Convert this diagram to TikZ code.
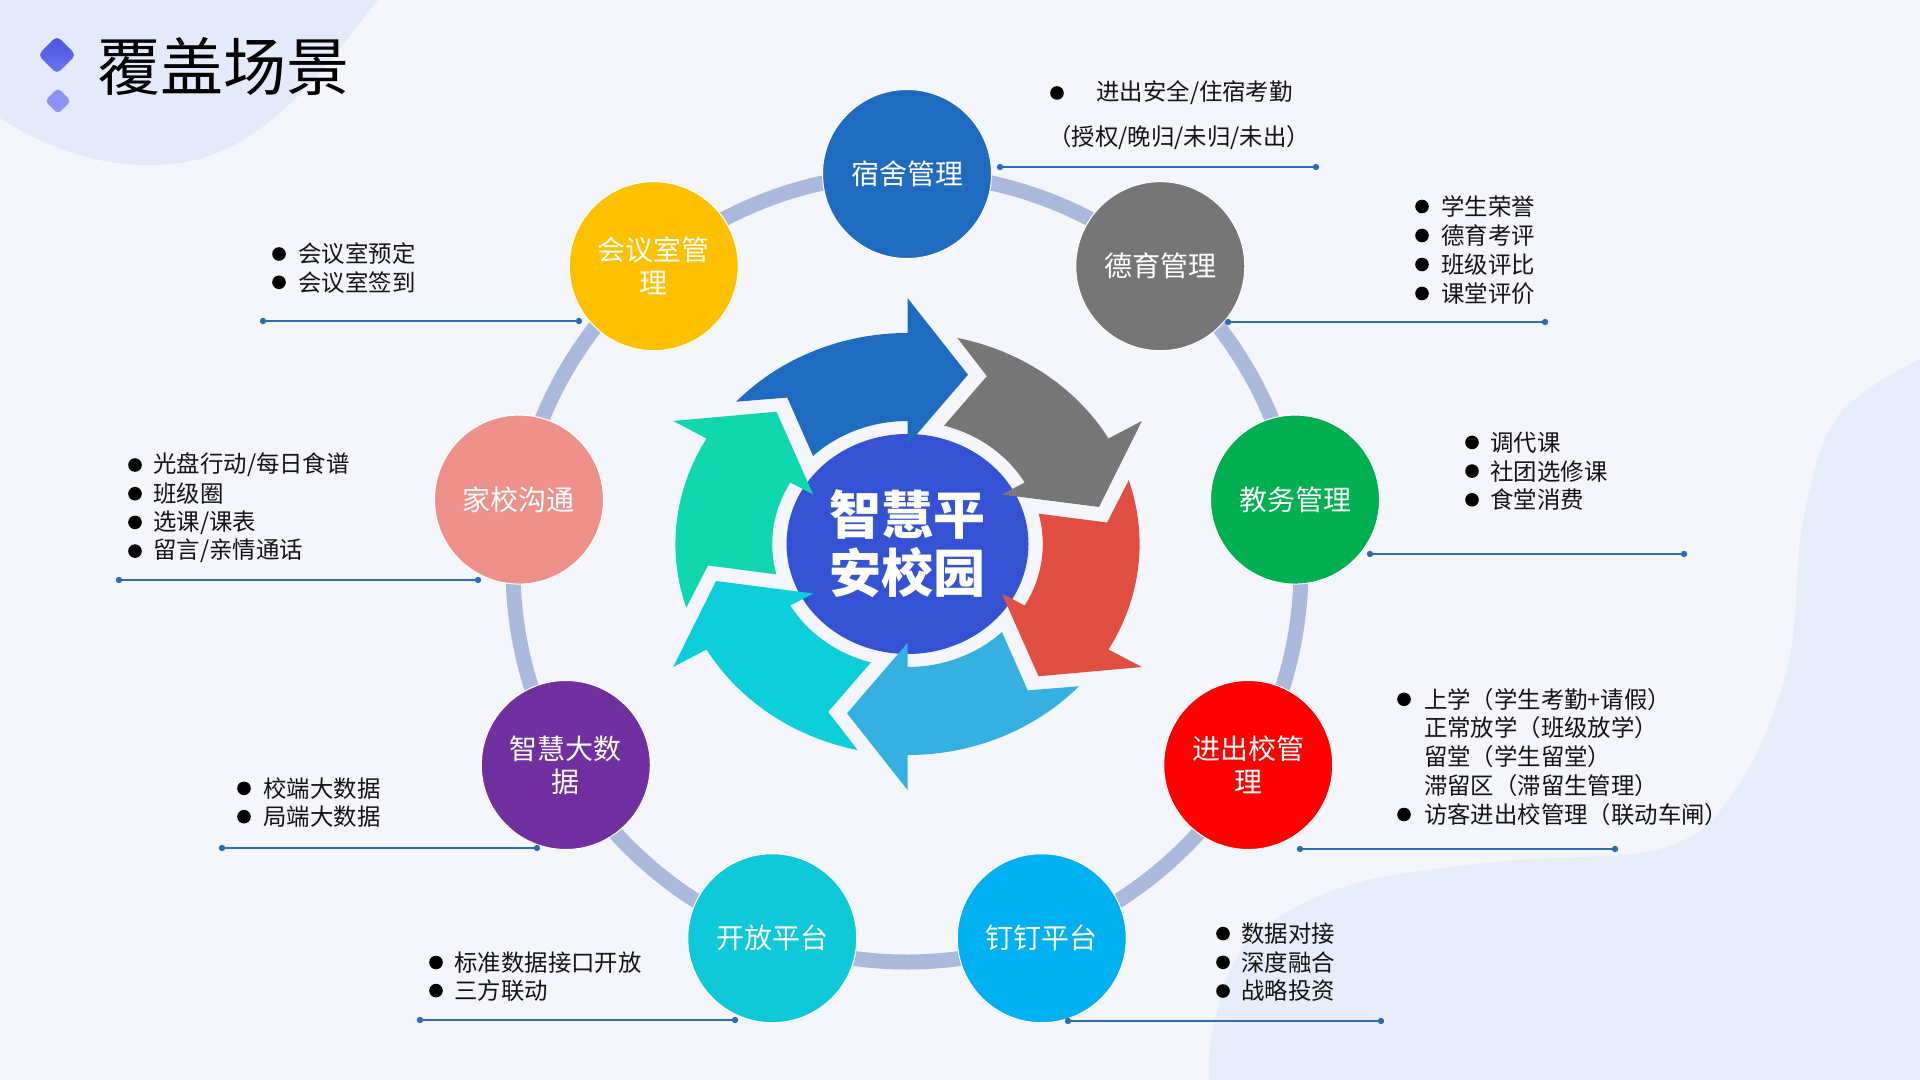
\documentclass[tikz,border=0pt]{standalone}
\usepackage{fontspec}
\setmainfont{Noto Sans CJK SC}
\definecolor{bgc}{HTML}{F4F6FC}
\definecolor{blobA}{HTML}{E4E9FB}
\definecolor{blobB}{HTML}{E8EDFB}
\definecolor{ringcol}{HTML}{ABB9DD}
\definecolor{lineblue}{HTML}{2E6DB6}
\definecolor{cSushe}{HTML}{1F6BBF}
\definecolor{cDeyu}{HTML}{767676}
\definecolor{cJiaowu}{HTML}{00B050}
\definecolor{cJinchu}{HTML}{FF0000}
\definecolor{cDing}{HTML}{00B0F0}
\definecolor{cKaifang}{HTML}{10C9D8}
\definecolor{cData}{HTML}{7030A0}
\definecolor{cJiaxiao}{HTML}{EE918B}
\definecolor{cHuiyi}{HTML}{FFC000}
\definecolor{aBlue}{HTML}{1F6BBF}
\definecolor{aGray}{HTML}{777777}
\definecolor{aRed}{HTML}{E14F43}
\definecolor{aLtBlue}{HTML}{36B0E0}
\definecolor{aCyan}{HTML}{0DCFD9}
\definecolor{aGreen}{HTML}{10D7AF}
\definecolor{ctrcol}{HTML}{3452D3}
\definecolor{dmA}{HTML}{4A52E0}
\definecolor{dmB}{HTML}{6E78F2}
\definecolor{dmC}{HTML}{8E94F5}
\newcommand{\cycarrow}[2]{%
  \begin{scope}[rotate=#1-90]
    \fill[#2] (137.6:211) arc[start angle=137.6,end angle=90,radius=211]
      -- (0,246) -- (55,169.3) -- (0,99) -- (0,123)
      arc[start angle=90,end angle=134.3,radius=123]
      -- (-109.3,146.4) -- cycle;
  \end{scope}}
\begin{document}
\begin{tikzpicture}[x=0.5pt,y=0.5pt,
  modnode/.style={circle, minimum size=84.5pt, inner sep=0pt, text=white,
    font=\fontsize{14}{16.5}\selectfont, align=center, draw=white, line width=0.5pt},
  itm/.style={anchor=west, inner sep=0pt, font=\fontsize{11.7}{14}\selectfont, text=black!92},
  bul/.style={fill=black},
  conn/.style={draw=lineblue, line width=0.8pt},
  cdot/.style={fill=lineblue}]
\useasboundingbox (0,0) rectangle (1920,-1080);
% background
\fill[bgc] (0,0) rectangle (1920,-1080);
\fill[blobA] (0,0) -- (378,0) .. controls (330,-60) and (270,-150) .. (180,-163)
  .. controls (110,-172) and (50,-150) .. (0,-118) -- cycle;
\fill[blobB] plot[smooth, tension=0.6] coordinates {(1920,-359) (1838,-416) (1803,-521) (1788,-665) (1739,-784) (1666,-847) (1494,-862) (1346,-886) (1248,-942) (1214,-1024) (1209,-1080)} -- (1920,-1080) -- cycle;
% title and diamonds
\shade[top color=dmA, bottom color=dmB, rounded corners=2.5pt] (57,-36) -- (76,-55) -- (57,-74) -- (38,-55) -- cycle;
\fill[dmC, rounded corners=2pt] (58,-88) -- (71,-101) -- (58,-114) -- (45,-101) -- cycle;
\node[anchor=west, inner sep=0pt, font=\fontsize{31.5}{36}\selectfont, text=black] (title) at (97,-67) {覆盖场景};
% ring
\coordinate (ringc) at (907,-568);
\draw[ringcol, line width=7.5pt] (ringc) circle (394);
% connector lines
\foreach \n/\ax/\bx/\yy in {sushe/1000/1316/167, deyu/1228/1545/322, jiaowu/1370/1684/554, jinchu/1300/1615/849, ding/1068/1381/1021, kaifang/420/735/1020, data/222/537/848, jiaxiao/119/478/580, huiyi/263/579/321}{
  \coordinate (\n-a) at (\ax,-\yy);
  \coordinate (\n-b) at (\bx,-\yy);
}
% module circles
\node[modnode, fill=cSushe] (sushe) at ({907+394*cos(90)},{-568+394*sin(90)}) {宿舍管理};
\node[modnode, fill=cDeyu] (deyu) at ({907+394*cos(50)},{-568+394*sin(50)}) {德育管理};
\node[modnode, fill=cJiaowu] (jiaowu) at ({907+394*cos(10)},{-568+394*sin(10)}) {教务管理};
\node[modnode, fill=cJinchu] (jinchu) at ({907+394*cos(-30)},{-568+394*sin(-30)}) {进出校管\\理};
\node[modnode, fill=cDing] (ding) at ({907+394*cos(-70)},{-568+394*sin(-70)}) {钉钉平台};
\node[modnode, fill=cKaifang] (kaifang) at ({907+394*cos(-110)},{-568+394*sin(-110)}) {开放平台};
\node[modnode, fill=cData] (data) at ({907+394*cos(-150)},{-568+394*sin(-150)}) {智慧大数\\据};
\node[modnode, fill=cJiaxiao] (jiaxiao) at ({907+394*cos(170)},{-568+394*sin(170)}) {家校沟通};
\node[modnode, fill=cHuiyi] (huiyi) at ({907+394*cos(130)},{-568+394*sin(130)}) {会议室管\\理};
\foreach \n in {sushe,deyu,jiaowu,jinchu,ding,kaifang,data,jiaxiao,huiyi}{
  \draw[conn] (\n-a) -- (\n-b);
  \fill[cdot] (\n-a) circle (3.2);
  \fill[cdot] (\n-b) circle (3.2);
}
% center cycle
\begin{scope}[shift={(907.5,-544)}, xscale=1.1]
  \fill[ctrcol] (0,0) circle (110);
  \cycarrow{90}{aBlue}
  \cycarrow{30}{aGray}
  \cycarrow{-30}{aRed}
  \cycarrow{-90}{aLtBlue}
  \cycarrow{-150}{aCyan}
  \cycarrow{150}{aGreen}
\end{scope}
\node[align=center, text=white, inner sep=0pt, font=\fontsize{26}{29}\selectfont\bfseries] (core) at (907.5,-544) {智慧平\\安校园};
% lists
% sushe
\fill[bul] (1057,-93) circle (6.8);
\node[itm] (t-su1) at (1096,-93) {进出安全/住宿考勤};
\node[itm] (t-su2) at (1048,-138) {（授权/晚归/未归/未出）};
% deyu
\foreach \t [count=\i] in {学生荣誉,德育考评,班级评比,课堂评价}{
  \fill[bul] (1422,{-206.5-29*(\i-1)}) circle (6.8);
  \node[itm] (t-dy\i) at (1441,{-206.5-29*(\i-1)}) {\t};
}
% jiaowu
\foreach \t [count=\i] in {调代课,社团选修课,食堂消费}{
  \fill[bul] (1472,{-442.4-28.7*(\i-1)}) circle (6.8);
  \node[itm] (t-jw\i) at (1490,{-442.4-28.7*(\i-1)}) {\t};
}
% jinchu
\fill[bul] (1404,-699.3) circle (6.8);
\fill[bul] (1404,-814.5) circle (6.8);
\node[itm] (t-jc1) at (1423.6,-699.3) {上学（学生考勤+请假）};
\node[itm] (t-jc2) at (1423.6,-728) {正常放学（班级放学）};
\node[itm] (t-jc3) at (1423.6,-757.1) {留堂（学生留堂）};
\node[itm] (t-jc4) at (1423.6,-785.8) {滞留区（滞留生管理）};
\node[itm] (t-jc5) at (1423.6,-814.5) {访客进出校管理（联动车闸）};
% ding
\foreach \t [count=\i] in {数据对接,深度融合,战略投资}{
  \fill[bul] (1223,{-933.6-28.7*(\i-1)}) circle (6.8);
  \node[itm] (t-dd\i) at (1241,{-933.6-28.7*(\i-1)}) {\t};
}
% kaifang
\foreach \t [count=\i] in {标准数据接口开放,三方联动}{
  \fill[bul] (436,{-962.5-28.1*(\i-1)}) circle (6.8);
  \node[itm] (t-kf\i) at (454,{-962.5-28.1*(\i-1)}) {\t};
}
% data
\foreach \t [count=\i] in {校端大数据,局端大数据}{
  \fill[bul] (244,{-788.3-28.4*(\i-1)}) circle (6.8);
  \node[itm] (t-sj\i) at (263,{-788.3-28.4*(\i-1)}) {\t};
}
% jiaxiao
\foreach \t [count=\i] in {光盘行动/每日食谱,班级圈,选课/课表,留言/亲情通话}{
  \fill[bul] (135,{-465-28.7*(\i-1)}) circle (6.8);
  \node[itm] (t-jx\i) at (153,{-465-28.7*(\i-1)}) {\t};
}
% huiyi
\foreach \t [count=\i] in {会议室预定,会议室签到}{
  \fill[bul] (279,{-254-28.3*(\i-1)}) circle (6.8);
  \node[itm] (t-hy\i) at (298,{-254-28.3*(\i-1)}) {\t};
}
\end{tikzpicture}
\end{document}
